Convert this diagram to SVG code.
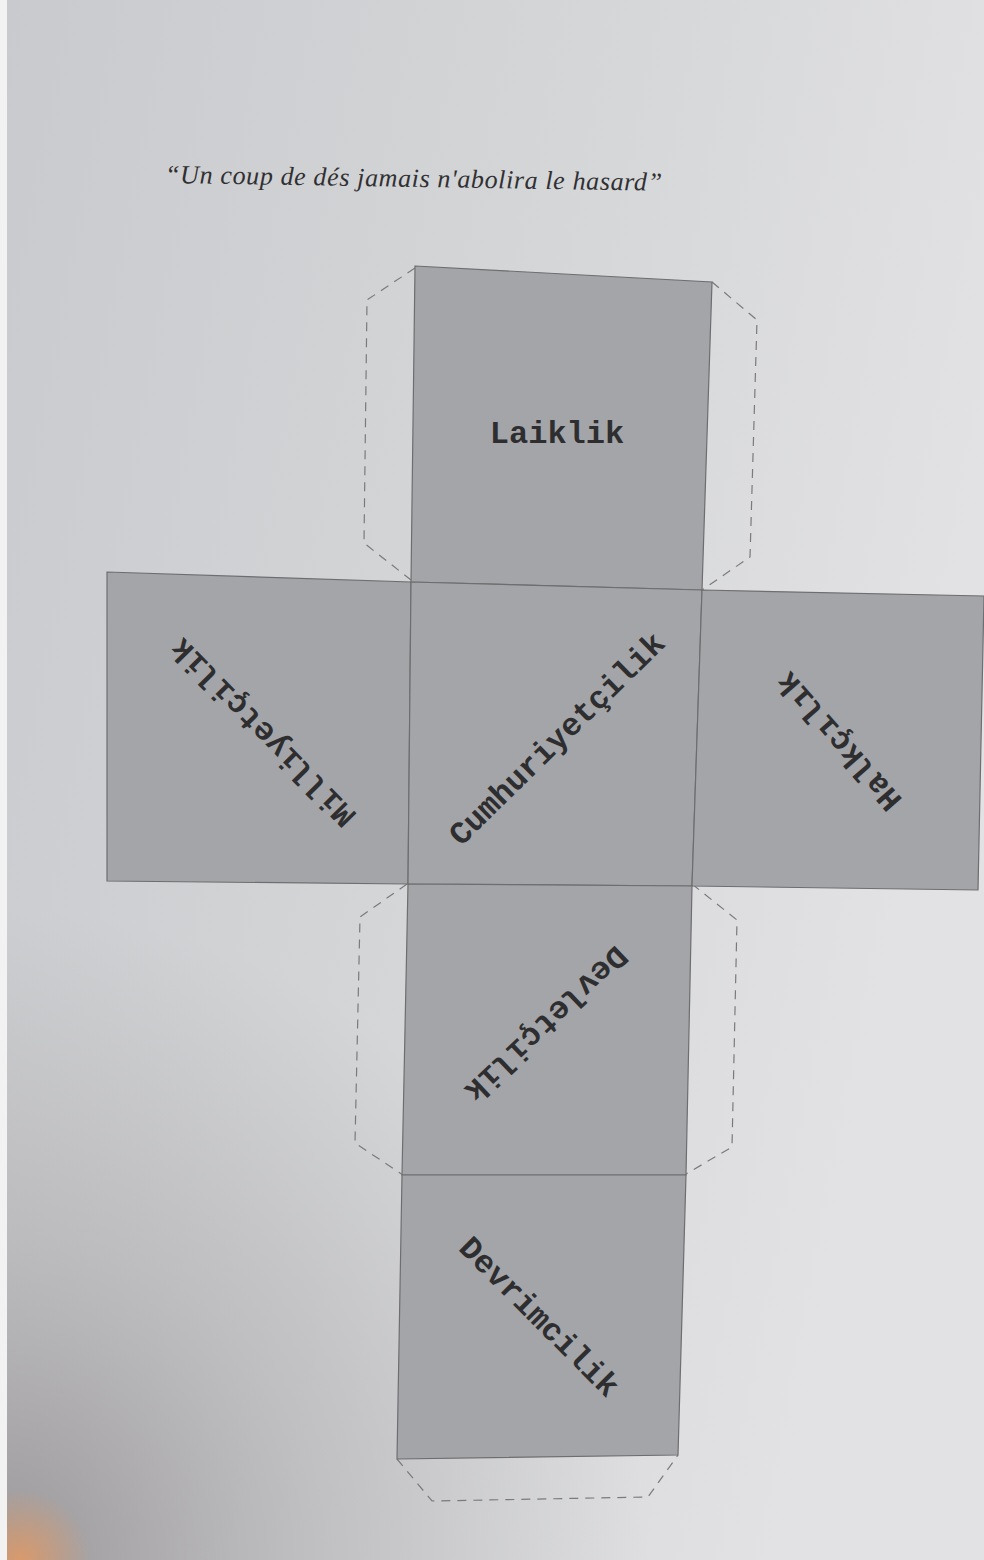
<svg xmlns="http://www.w3.org/2000/svg" width="984" height="1560" viewBox="0 0 984 1560">
<defs>
<linearGradient id="bg" x1="0" y1="0" x2="1" y2="0.3">
<stop offset="0" stop-color="#c9cacd"/>
<stop offset="0.6" stop-color="#d6d7d9"/>
<stop offset="1" stop-color="#e2e2e4"/>
</linearGradient>
<radialGradient id="shade" cx="0" cy="1560" r="650" gradientUnits="userSpaceOnUse">
<stop offset="0" stop-color="#8a8587" stop-opacity="0.75"/>
<stop offset="0.5" stop-color="#9a9799" stop-opacity="0.35"/>
<stop offset="1" stop-color="#a0a0a2" stop-opacity="0"/>
</radialGradient>
<radialGradient id="glow" cx="20" cy="1560" r="70" gradientUnits="userSpaceOnUse">
<stop offset="0" stop-color="#e89a60" stop-opacity="0.8"/>
<stop offset="1" stop-color="#e89a60" stop-opacity="0"/>
</radialGradient>
<style>
.face{fill:#a4a5a8;stroke:#6e6e70;stroke-width:1.2}
.flap{fill:none;stroke:#7a7a7c;stroke-width:1.2;stroke-dasharray:9 7}
.lbl{font-family:"Liberation Mono","Courier New",monospace;font-weight:bold;font-size:32px;fill:#2e2e30;text-anchor:middle}
.title{font-family:"Liberation Serif","Times New Roman",serif;font-style:italic;font-size:26px;fill:#303032}
</style>
</defs>
<rect width="984" height="1560" fill="url(#bg)"/>
<rect width="984" height="1560" fill="url(#shade)"/>
<rect width="984" height="1560" fill="url(#glow)"/>
<rect x="0" y="0" width="7" height="1560" fill="#f2f2f3"/>
<text class="title" x="165" y="183" textLength="497" transform="rotate(0.9 165 183)">“Un coup de dés jamais n'abolira le hasard”</text>
<g id="flaps" class="connectors">
<polyline class="flap" points="415,268 367,300 364,543 411,580"/>
<polyline class="flap" points="712,282 757,320 750,557 702,590"/>
<polyline class="flap" points="407,884 360,917 355,1143 403,1175"/>
<polyline class="flap" points="692,884 737,920 732,1147 686,1174"/>
<polyline class="flap" points="397,1459 432,1501 648,1497 678,1455"/>
</g>
<g id="face-laiklik">
<polygon class="face" points="415,266 712,282 702,590 411,582"/>
<text class="lbl" transform="translate(557,432)" dy="0.35em">Laiklik</text>
</g>
<g id="face-milliyetcilik">
<polygon class="face" points="107,572 411,582 408,884 107,881"/>
<text class="lbl" transform="translate(262,733) rotate(225.5)" dy="0.35em">Milliyetçilik</text>
</g>
<g id="face-cumhuriyetcilik">
<polygon class="face" points="411,582 702,590 692,886 408,884"/>
<text class="lbl" transform="translate(556,738) rotate(-44.5)" dy="0.35em">Cumhuriyetçilik</text>
</g>
<g id="face-halkcilik">
<polygon class="face" points="702,590 984,596 978,890 692,886"/>
<text class="lbl" transform="translate(838,742) rotate(229)" dy="0.35em">Halkçılık</text>
</g>
<g id="face-devletcilik">
<polygon class="face" points="408,884 692,886 686,1175 402,1175"/>
<text class="lbl" transform="translate(547,1025) rotate(136.5)" dy="0.35em">Devletçilik</text>
</g>
<g id="face-devrimcilik">
<polygon class="face" points="402,1175 686,1175 678,1455 397,1459"/>
<text class="lbl" transform="translate(540,1316) rotate(45)" dy="0.35em">Devrimcilik</text>
</g>
</svg>
